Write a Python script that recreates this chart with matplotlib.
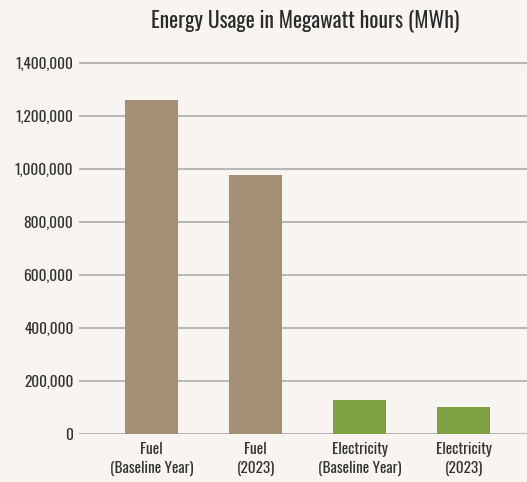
import matplotlib.pyplot as plt
from matplotlib.ticker import FuncFormatter

categories = ["Fuel\n(Baseline Year)", "Fuel\n(2023)",
              "Electricity\n(Baseline Year)", "Electricity\n(2023)"]
values = [1262000, 977000, 128000, 102000]
colors = ["#a38f74", "#a38f74", "#7fa142", "#7fa142"]
yticks = [0, 200000, 400000, 600000, 800000, 1000000, 1200000, 1400000]

BG = "#f8f5f1"
plt.rcParams["font.family"] = ["Oswald", "Barlow Condensed", "DejaVu Sans"]

fig = plt.figure(figsize=(5.27, 4.82), dpi=100, facecolor=BG)
# y axis: 0 at 434 px, 1.4M at 63 px; a little headroom so top grid isn't clipped
top = 1410000
ax = fig.add_axes([0.150, 0.0996, 0.85, 0.7697 * top / 1400000], facecolor=BG)

x = range(len(categories))
ax.bar(x, values, width=0.51, color=colors, zorder=3)

ax.set_xlim(-0.70, 3.61)
ax.set_ylim(0, top)
ax.set_yticks(yticks)
ax.yaxis.set_major_formatter(FuncFormatter(lambda v, _: f"{v:,.0f}"))
ax.set_xticks(list(x))
ax.set_xticklabels(categories, fontsize=11, color="#333333", linespacing=1.3)
ax.tick_params(axis="y", labelsize=11, labelcolor="#333333", length=0, pad=4)
ax.tick_params(axis="x", length=0, pad=6)
ax.grid(axis="y", color="#b8b8b8", linewidth=1.5, zorder=0)
for s in ax.spines.values():
    s.set_visible(False)

fig.text(0.58, 0.958, "Energy Usage in Megawatt hours (MWh)", ha="center", va="center",
         fontsize=15.5, color="#2a2a2a")

fig.savefig("out.png", dpi=100, facecolor=BG)
